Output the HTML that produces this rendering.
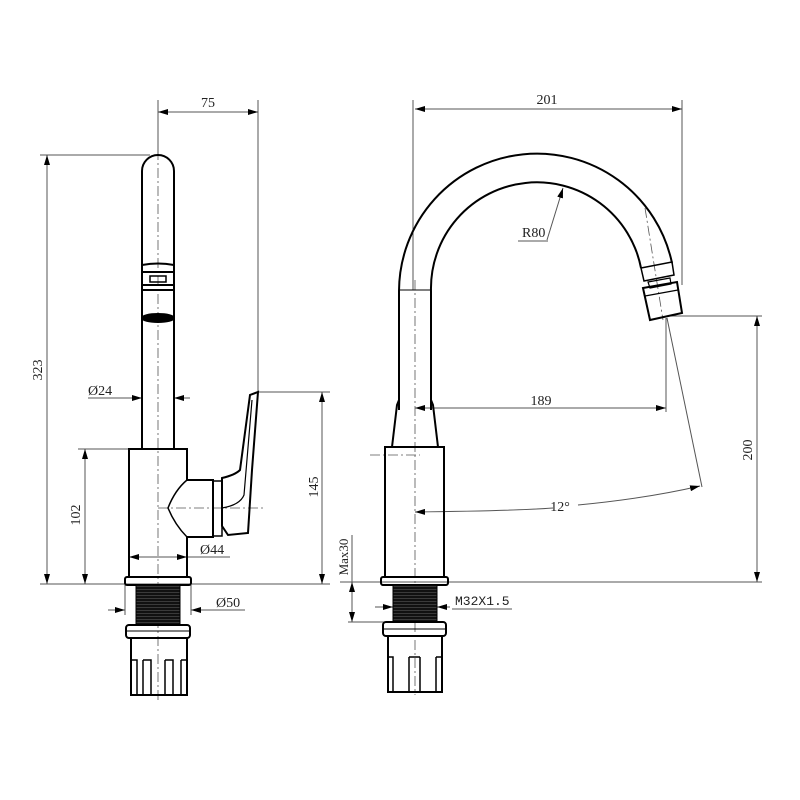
<!DOCTYPE html>
<html><head><meta charset="utf-8"><style>
html,body{margin:0;padding:0;background:#fff;}
svg{display:block;}
text{font-family:"Liberation Serif",serif;font-size:14px;fill:#222;}
</style></head><body>
<svg width="800" height="800" viewBox="0 0 800 800" xmlns="http://www.w3.org/2000/svg">
<defs>
<marker id="a" viewBox="0 0 10 6" refX="10" refY="3" markerWidth="10" markerHeight="6" orient="auto-start-reverse" markerUnits="userSpaceOnUse"><path d="M0,0 L10,3 L0,6 z" fill="#000"/></marker>
<pattern id="th" width="3" height="3" patternUnits="userSpaceOnUse"><rect width="3" height="3" fill="#111"/><line x1="0" y1="1.5" x2="3" y2="1.5" stroke="#555" stroke-width="0.6"/></pattern>
</defs>
<g stroke="#555" stroke-width="1" fill="none">
<line x1="158" y1="100" x2="158" y2="155"/>
<line x1="258" y1="100" x2="258" y2="392"/>
<line x1="158" y1="112" x2="258" y2="112" marker-start="url(#a)" marker-end="url(#a)"/>
<line x1="40" y1="155" x2="150" y2="155"/>
<line x1="47" y1="155" x2="47" y2="584" marker-start="url(#a)" marker-end="url(#a)"/>
<line x1="40" y1="584" x2="330" y2="584"/>
<line x1="78" y1="449" x2="129" y2="449"/>
<line x1="85" y1="449" x2="85" y2="584" marker-start="url(#a)" marker-end="url(#a)"/>
<line x1="258" y1="392" x2="330" y2="392"/>
<line x1="322" y1="392" x2="322" y2="584" marker-start="url(#a)" marker-end="url(#a)"/>
<line x1="88" y1="398" x2="142" y2="398" marker-end="url(#a)"/>
<line x1="190" y1="398" x2="174" y2="398" marker-end="url(#a)"/>
<line x1="129" y1="557" x2="187" y2="557" marker-start="url(#a)" marker-end="url(#a)"/>
<line x1="187" y1="557" x2="230" y2="557"/>
<line x1="108" y1="610" x2="125" y2="610" marker-end="url(#a)"/>
<line x1="245" y1="610" x2="191" y2="610" marker-end="url(#a)"/>
<line x1="125" y1="585" x2="125" y2="615"/>
<line x1="191" y1="585" x2="191" y2="615"/>
<line x1="413" y1="100" x2="413" y2="290"/>
<line x1="682" y1="100" x2="682" y2="285"/>
<line x1="415" y1="109" x2="682" y2="109" marker-start="url(#a)" marker-end="url(#a)"/>
<line x1="415" y1="408" x2="666" y2="408" marker-start="url(#a)" marker-end="url(#a)"/>
<line x1="666" y1="318" x2="666" y2="412"/>
<line x1="670" y1="316" x2="762" y2="316"/>
<line x1="757" y1="316" x2="757" y2="582" marker-start="url(#a)" marker-end="url(#a)"/>
<line x1="340" y1="582" x2="762" y2="582"/>
<line x1="667" y1="318" x2="702" y2="487"/>
<path d="M415,512 C 500,511 540,509 553,508" marker-start="url(#a)"/>
<path d="M578,505 C 630,500 670,493 700,486" marker-end="url(#a)"/>
<line x1="563" y1="188" x2="547" y2="240" marker-start="url(#a)"/>
<line x1="518" y1="241" x2="548" y2="241"/>
<line x1="352" y1="582" x2="352" y2="622" marker-start="url(#a)" marker-end="url(#a)"/>
<line x1="352" y1="535" x2="352" y2="582"/>
<line x1="348" y1="622" x2="386" y2="622"/>
<line x1="375" y1="607" x2="393" y2="607" marker-end="url(#a)"/>
<line x1="450" y1="607" x2="437" y2="607" marker-end="url(#a)"/>
<line x1="452" y1="609" x2="512" y2="609"/>
</g>
<g stroke="#555" stroke-width="0.8" stroke-dasharray="10,3,2,3" fill="none">
<line x1="158" y1="150" x2="158" y2="700"/>
<line x1="158" y1="508" x2="265" y2="508"/>
<line x1="415" y1="280" x2="415" y2="695"/>
<line x1="370" y1="455" x2="420" y2="455"/>
<line x1="645" y1="208" x2="663" y2="320"/>
</g>
<g stroke="#000" stroke-width="2" fill="none">
<path d="M142,449 L142,171 A16,16 0 0 1 174,171 L174,449"/>
<path d="M142,265 Q158,262 174,265 M142,272 L174,272 M142,285 L174,285 M142,290 L174,290"/>
<rect x="150" y="276" width="16" height="6" stroke-width="1.5"/>
<ellipse cx="158" cy="318" rx="16" ry="4" fill="#000"/>
<path d="M129,449 L187,449 L187,480 L213,480 L213,537 L187,537 L187,577 L129,577 Z"/>
<path d="M187,480 Q175,490 168,508 Q175,525 187,537" stroke-width="1.5"/>
<rect x="213" y="481" width="9" height="55" stroke-width="1.5"/>
<path d="M222,478 Q235,475 240,470 L250,395 L258,392 L252,470 L248,533 L228,535 L222,526 Z"/>
<path d="M222,508 Q240,505 244,495 L252,400" stroke-width="1.2"/>
<rect x="125" y="577" width="66" height="8" rx="2"/>
<rect x="136" y="585" width="44" height="40" fill="url(#th)" stroke-width="1"/>
<rect x="126" y="625" width="64" height="13" rx="3"/>
<line x1="126" y1="631" x2="190" y2="631" stroke-width="1"/>
<path d="M131,638 L131,695 L187,695 L187,638"/>
<path d="M131,660 L137,660 L137,695 M143,660 L151,660 L151,695 M143,660 L143,695 M165,660 L173,660 L173,695 M165,660 L165,695 M181,660 L187,660 M181,660 L181,695" stroke-width="1.5"/>
</g>
<g stroke="#000" stroke-width="2" fill="none">
<path d="M399,410 L399,291 A138,138 0 0 1 672,263"/>
<path d="M431,410 L431,291 A106,106 0 0 1 641,268"/>
<line x1="399" y1="290" x2="431" y2="290" stroke-width="1"/>
<path d="M641,268 L672,262 L674,275 L644,281 Z" stroke-width="1.5"/>
<path d="M648,282 L670,278 L671,284 L650,288 Z" stroke-width="1.2"/>
<path d="M643,288 L677,282 L682,313 L650,320 Z"/>
<line x1="645" y1="296" x2="678" y2="290" stroke-width="1.2"/>
<path d="M392,447 L397,405 L399,400 M438,447 L433,405 L431,400"/>
<rect x="385" y="447" width="59" height="130"/>
<rect x="381" y="577" width="67" height="8" rx="2"/>
<rect x="393" y="585" width="44" height="37" fill="url(#th)" stroke-width="1"/>
<rect x="383" y="622" width="63" height="14" rx="3"/>
<line x1="383" y1="629" x2="446" y2="629" stroke-width="1"/>
<path d="M388,636 L388,692 L442,692 L442,636"/>
<path d="M388,657 L393,657 L393,692 M409,657 L420,657 M409,657 L409,692 M420,657 L420,692 M436,657 L442,657 M436,657 L436,692" stroke-width="1.5"/>
</g>
<text x="208" y="107" text-anchor="middle">75</text>
<text x="547" y="104" text-anchor="middle">201</text>
<text x="541" y="405" text-anchor="middle">189</text>
<text x="522" y="237">R80</text>
<text x="560" y="511" text-anchor="middle">12°</text>
<text x="88" y="395">Ø24</text>
<text x="200" y="554">Ø44</text>
<text x="216" y="607">Ø50</text>
<text x="455" y="605" style="font-family:'Liberation Mono',monospace;font-size:13px">M32X1.5</text>
<text transform="translate(42,370) rotate(-90)" text-anchor="middle">323</text>
<text transform="translate(80,515) rotate(-90)" text-anchor="middle">102</text>
<text transform="translate(318,487) rotate(-90)" text-anchor="middle">145</text>
<text transform="translate(752,450) rotate(-90)" text-anchor="middle">200</text>
<text transform="translate(348,557) rotate(-90)" text-anchor="middle" style="font-size:13px">Max30</text>
</svg>
</body></html>
